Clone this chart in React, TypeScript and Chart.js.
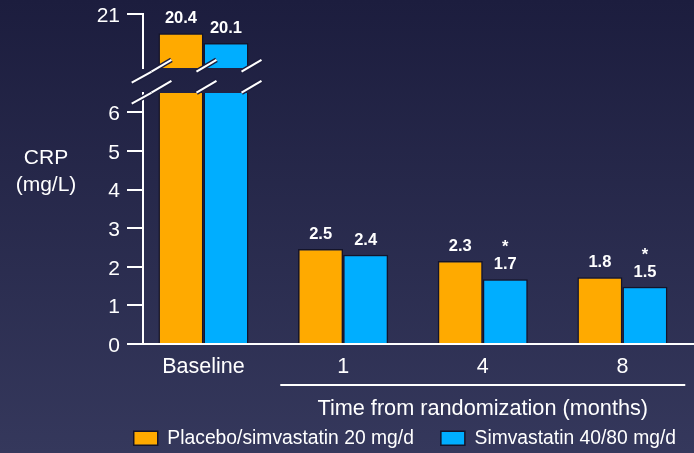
import React, { useEffect, useRef } from 'react';
import { Chart, registerables } from 'chart.js';

Chart.register(...registerables);

// ---------- data ----------
const categories = ['Baseline', '1', '4', '8'];
const seriesNames = ['Placebo/simvastatin 20 mg/d', 'Simvastatin 40/80 mg/d'];
const placeboValues = [20.4, 2.46, 2.15, 1.73];
const simvaValues = [20.1, 2.31, 1.68, 1.48];
const placeboLabels = ['20.4', '2.5', '2.3', '1.8'];
const simvaLabels = ['20.1', '2.4', '1.7', '1.5'];
const placeboStars = [false, false, false, false];
const simvaStars = [false, false, true, true];
const lowerTicks = [0, 1, 2, 3, 4, 5, 6];
const upperTicks = [21];
const axisTitleLines = ['CRP', '(mg/L)'];
const groupTitle = 'Time from randomization (months)';

// ---------- styling ----------
const FONT = '"Liberation Sans", Arial, Helvetica, sans-serif';
const ORANGE = '#FFAA00';
const BLUE = '#00AEFF';
const BAR_BORDER = '#14142a';
const WHITE = '#ffffff';
const BG_DARK = '#1d1e3f';

const CANVAS_W = 703;
const UPPER_SHIFT = 10; // upper canvas is raised so its tick label fits
const LOWER_MAX = 6.5;
const UPPER_MIN = 19.32;
const UPPER_MAX = 21;
const X_MIN = -0.433;
const X_MAX = 3.577;

const valueSets = [placeboValues, simvaValues];
const labelSets = [placeboLabels, simvaLabels];
const starSets = [placeboStars, simvaStars];
const colors = [ORANGE, BLUE];

function makeDatasets(filter: (v: number) => boolean) {
  return valueSets.map((vals, di) => ({
    label: seriesNames[di],
    data: vals.map((v, i) => ({ x: i, y: filter(v) ? v : null })),
    backgroundColor: colors[di],
    borderColor: BAR_BORDER,
    borderWidth: 1.5,
    categoryPercentage: 0.645,
    barPercentage: 1,
  }));
}

function xScale(display: boolean) {
  return {
    type: 'linear' as const,
    min: X_MIN,
    max: X_MAX,
    offset: false,
    display,
    afterBuildTicks: (s: any) => {
      s.ticks = categories.map((_, i) => ({ value: i }));
    },
    afterFit: (s: any) => {
      if (display) s.height = 57.7;
    },
    grid: { display: false, drawTicks: false, offset: false },
    border: { display: true, color: WHITE, width: 2 },
    ticks: {
      color: WHITE,
      font: { family: FONT, size: 21.5 },
      padding: 10,
      maxRotation: 0,
      autoSkip: false,
      callback: (v: any) => categories[v] ?? '',
    },
  };
}

function yScale(min: number, max: number, tickValues: number[]) {
  return {
    type: 'linear' as const,
    min,
    max,
    afterBuildTicks: (s: any) => {
      s.ticks = tickValues.map((v) => ({ value: v }));
    },
    afterFit: (s: any) => {
      s.width = 83;
    },
    grid: {
      display: true,
      drawOnChartArea: false,
      drawTicks: true,
      tickLength: 16,
      color: WHITE,
      lineWidth: 2,
    },
    border: { display: true, color: WHITE, width: 2 },
    ticks: {
      color: WHITE,
      font: { family: FONT, size: 21 },
      padding: 7,
      labelOffset: 2,
      callback: (v: any) => String(v),
    },
  };
}

const barLabelPlugin = {
  id: 'barLabels',
  afterDatasetsDraw(chart: any) {
    const ctx = chart.ctx;
    const ys = chart.scales.y;
    chart.data.datasets.forEach((ds: any, di: number) => {
      const meta = chart.getDatasetMeta(di);
      meta.data.forEach((bar: any, i: number) => {
        const v = ds.data[i].y;
        if (v == null || v > ys.max || v < ys.min) return;
        ctx.save();
        ctx.font = `bold 16.5px ${FONT}`;
        ctx.fillStyle = WHITE;
        ctx.textAlign = 'center';
        ctx.textBaseline = 'alphabetic';
        const base = bar.y - 10;
        ctx.fillText(labelSets[di][i], bar.x, base);
        if (starSets[di][i]) ctx.fillText('*', bar.x, base - 17);
        ctx.restore();
      });
    });
  },
};

function drawSlash(ctx: CanvasRenderingContext2D, x1: number, y1: number, x2: number, y2: number) {
  ctx.beginPath();
  ctx.moveTo(x1, y1);
  ctx.lineTo(x2, y2);
  ctx.lineCap = 'butt';
  ctx.strokeStyle = BG_DARK;
  ctx.lineWidth = 5;
  ctx.stroke();
  ctx.strokeStyle = WHITE;
  ctx.lineWidth = 2.2;
  ctx.stroke();
}

const decorPlugin = {
  id: 'decor',
  afterDraw(chart: any) {
    const ctx: CanvasRenderingContext2D = chart.ctx;
    const area = chart.chartArea;
    const xs = chart.scales.x;
    ctx.save();

    // axis title (horizontal)
    ctx.fillStyle = WHITE;
    ctx.font = `21px ${FONT}`;
    ctx.textAlign = 'center';
    ctx.textBaseline = 'alphabetic';
    const titleX = area.left - 97;
    ctx.fillText(axisTitleLines[0], titleX, area.top + 71);
    ctx.fillText(axisTitleLines[1], titleX, area.top + 97.5);

    // group line + title under categories 1..3
    const p1 = xs.getPixelForValue(1);
    const p3 = xs.getPixelForValue(categories.length - 1);
    const step = xs.getPixelForValue(1) - xs.getPixelForValue(0);
    ctx.strokeStyle = WHITE;
    ctx.lineWidth = 2;
    ctx.beginPath();
    ctx.moveTo(p1 - 0.45 * step, area.bottom + 41);
    ctx.lineTo(p3 + 0.45 * step, area.bottom + 41);
    ctx.stroke();
    ctx.font = `21.7px ${FONT}`;
    ctx.fillText(groupTitle, (p1 + p3) / 2, area.bottom + 71);

    // axis break slashes
    const b0 = chart.getDatasetMeta(0).data[0];
    const b1 = chart.getDatasetMeta(1).data[0];
    const edges = [b0.x - b0.width / 2, b0.x + b0.width / 2, b1.x + b1.width / 2];
    const rows = [area.top - 21.4, area.top - 0.4];
    const ax = area.left;
    rows.forEach((ry) => {
      drawSlash(ctx, ax - 11.3, ry + 11, ax + 8.7, ry);
      edges.forEach((e) => drawSlash(ctx, e - 7, ry, e + 13, ry - 11.7));
    });
    ctx.restore();
  },
};

export default function App() {
  const upperRef = useRef<HTMLCanvasElement>(null);
  const lowerRef = useRef<HTMLCanvasElement>(null);

  useEffect(() => {
    const upper = new Chart(upperRef.current!, {
      type: 'bar',
      data: { datasets: makeDatasets((v) => v >= UPPER_MIN) as any },
      options: {
        animation: false,
        responsive: false,
        layout: { padding: { left: 60, top: 13.9 + UPPER_SHIFT, right: 0, bottom: 20 } },
        plugins: { legend: { display: false }, tooltip: { enabled: false } },
        scales: {
          x: xScale(false) as any,
          y: yScale(UPPER_MIN, UPPER_MAX, upperTicks) as any,
        },
      },
      plugins: [barLabelPlugin],
    });

    const lower = new Chart(lowerRef.current!, {
      type: 'bar',
      data: { datasets: makeDatasets(() => true) as any },
      options: {
        animation: false,
        responsive: false,
        layout: { padding: { left: 60, top: 93, right: 0, bottom: 0 } },
        plugins: {
          tooltip: { enabled: false },
          legend: {
            position: 'bottom',
            align: 'end',
            labels: {
              color: WHITE,
              font: { family: FONT, size: 19.3 },
              boxWidth: 24,
              boxHeight: 14,
              padding: 27,
            },
          },
        },
        scales: {
          x: xScale(true) as any,
          y: yScale(0, LOWER_MAX, lowerTicks) as any,
        },
      },
      plugins: [barLabelPlugin, decorPlugin],
    });

    return () => {
      upper.destroy();
      lower.destroy();
    };
  }, []);

  return (
    <div
      style={{
        position: 'fixed',
        left: 0,
        top: 0,
        width: 694,
        height: 453,
        overflow: 'hidden',
        background: 'linear-gradient(to bottom, #1c1d3e 0%, #35385c 100%)',
      }}
    >
      <canvas
        ref={upperRef}
        width={CANVAS_W}
        height={98}
        style={{ position: 'absolute', left: 0, top: -UPPER_SHIFT }}
      />
      <canvas ref={lowerRef} width={CANVAS_W} height={458} style={{ position: 'absolute', left: 0, top: 0 }} />
    </div>
  );
}
